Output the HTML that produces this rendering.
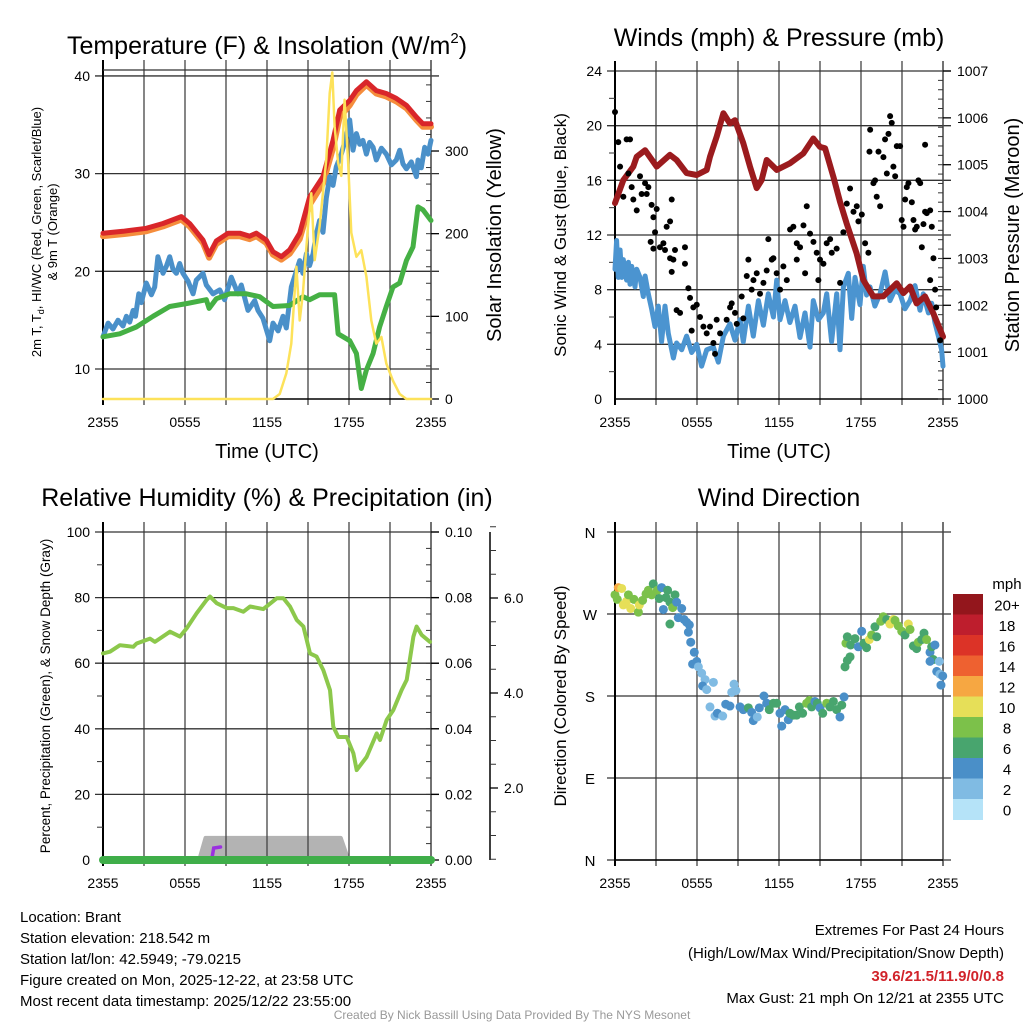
<!DOCTYPE html>
<html><head><meta charset="utf-8"><style>
html,body{margin:0;padding:0;background:#fff;}
svg{display:block;font-family:"Liberation Sans",sans-serif;}
</style></head><body>
<svg id="chart" width="1024" height="1024" viewBox="0 0 1024 1024" xmlns="http://www.w3.org/2000/svg">
<defs><clipPath id="clip3"><rect x="103" y="532" width="328" height="328"/></clipPath></defs>
<rect width="1024" height="1024" fill="#fff"/>
<g id="layer"></g>
<text x="267" y="54" font-size="25" text-anchor="middle">Temperature (F) &amp; Insolation (W/m<tspan font-size="15" dy="-11">2</tspan><tspan dy="11">)</tspan></text>
<text x="779" y="46" font-size="25" text-anchor="middle">Winds (mph) &amp; Pressure (mb)</text>
<text x="267" y="506" font-size="25" text-anchor="middle">Relative Humidity (%) &amp; Precipitation (in)</text>
<text x="779" y="506" font-size="25" text-anchor="middle">Wind Direction</text>
<text transform="translate(41,232) rotate(-90)" font-size="13" text-anchor="middle">2m T, T<tspan font-size="9" dy="3">d</tspan><tspan dy="-3">, HI/WC (Red, Green, Scarlet/Blue)</tspan></text>
<text transform="translate(57,232) rotate(-90)" font-size="13" text-anchor="middle">&amp; 9m T (Orange)</text>
<text transform="translate(501,235) rotate(-90)" font-size="20" text-anchor="middle">Solar Insolation (Yellow)</text>
<text transform="translate(566,235) rotate(-90)" font-size="17" text-anchor="middle">Sonic Wind &amp; Gust (Blue, Black)</text>
<text transform="translate(1019,235) rotate(-90)" font-size="20" text-anchor="middle">Station Pressure (Maroon)</text>
<text transform="translate(50,696) rotate(-90)" font-size="13.5" text-anchor="middle">Percent, Precipitation (Green), &amp; Snow Depth (Gray)</text>
<text transform="translate(566,696) rotate(-90)" font-size="17" text-anchor="middle">Direction (Colored By Speed)</text>
<text x="267" y="458" font-size="20" text-anchor="middle">Time (UTC)</text>
<text x="779" y="458" font-size="20" text-anchor="middle">Time (UTC)</text>
<text x="1007" y="589" font-size="15" text-anchor="middle">mph</text>
<g font-size="15">
<text x="20" y="922">Location: Brant</text>
<text x="20" y="943">Station elevation: 218.542 m</text>
<text x="20" y="964">Station lat/lon: 42.5949; -79.0215</text>
<text x="20" y="985">Figure created on Mon, 2025-12-22, at 23:58 UTC</text>
<text x="20" y="1006">Most recent data timestamp: 2025/12/22 23:55:00</text>
</g>
<g font-size="15" text-anchor="end">
<text x="1004" y="935">Extremes For Past 24 Hours</text>
<text x="1004" y="958">(High/Low/Max Wind/Precipitation/Snow Depth)</text>
<text x="1004" y="981" fill="#d1232a" font-weight="bold">39.6/21.5/11.9/0/0.8</text>
<text x="1004" y="1003">Max Gust: 21 mph On 12/21 at 2355 UTC</text>
</g>
<text x="512" y="1019" font-size="12" fill="#999" text-anchor="middle">Created By Nick Bassill Using Data Provided By The NYS Mesonet</text>
</svg>
<script>
// ---- Temperature panel data (hours since 2355) ----
const redT=[0,1.46,3.17,4.39,5.73,6.34,7.32,7.76,8.29,9.15,10.0,10.73,11.22,11.95,12.44,13.05,13.66,14.39,15.12,16.1,16.83,17.32,18.05,18.54,19.27,20.0,20.73,21.46,22.2,22.93,23.41,24];
const redV=[23.9,24.1,24.4,24.9,25.6,24.9,23.2,21.7,23.1,23.9,23.9,23.6,23.9,23.2,22.0,21.5,22.2,23.9,27.6,29.7,33.4,36.5,37.5,38.5,39.4,38.5,38.2,37.7,37.0,35.8,35.1,35.1];
const orangeV=[23.6,23.8,24.1,24.6,25.3,24.6,22.9,21.4,22.8,23.6,23.6,23.3,23.6,22.9,21.7,21.2,21.8,23.3,26.8,29.0,32.6,35.8,37.0,38.1,39.1,38.2,37.9,37.4,36.7,35.5,34.8,34.8];
const blueT=[0,0.37,0.73,1.1,1.46,1.71,1.95,2.2,2.38,2.62,2.8,3.17,3.54,3.78,4.02,4.39,4.63,4.88,5.12,5.37,5.61,5.85,6.22,6.59,6.83,7.32,7.56,8.05,8.54,8.9,9.39,9.88,10.12,10.61,11.1,11.34,11.7,12.2,12.44,12.81,13.17,13.41,13.78,14.39,14.63,14.88,15.12,15.37,15.61,15.85,16.1,16.34,16.59,16.83,17.07,17.44,17.8,18.05,18.29,18.54,18.78,19.02,19.27,19.51,19.76,20.0,20.37,20.73,21.1,21.46,21.71,21.95,22.2,22.56,22.93,23.05,23.29,23.54,23.78,24];
const blueV=[13.3,14.7,14.1,15.0,14.4,15.4,14.8,16.0,15.4,17.7,16.8,18.8,17.6,18.4,21.5,19.8,20.5,21.5,20.2,19.8,20.8,19.8,19.0,17.7,19.1,19.8,18.6,17.7,18.1,17.1,19.4,17.7,18.6,16.0,17.0,16.0,15.2,12.9,14.7,13.9,15.4,14.2,18.4,21.1,19.8,21.8,20.6,21.8,23.8,25.2,24.0,27.5,29.7,28.8,30.7,32.0,33.8,35.5,32.4,34.1,33.0,33.4,32.0,33.2,32.7,31.4,32.6,32.0,30.9,31.4,32.4,31.0,30.5,31.2,29.7,31.4,30.6,32.7,32.0,33.4];
const greenT=[0,1.22,2.44,3.66,4.88,6.1,7.56,7.76,8.29,9.27,10.49,11.46,12.44,13.66,14.63,15.12,15.85,16.95,17.2,18.05,18.54,18.9,19.27,19.76,20.24,20.73,21.22,21.71,22.2,22.68,23.05,23.41,24];
const greenV=[13.3,13.6,14.3,15.4,16.4,16.7,17.1,16.2,17.2,17.7,17.7,17.4,16.4,16.5,17.4,17.1,17.6,17.6,13.6,12.9,11.6,8.0,9.9,11.6,14.3,16.4,18.4,18.8,21.1,22.5,26.6,26.3,25.2];
const solarT=[0,12.44,12.93,13.41,13.78,14.02,14.15,14.39,14.63,15.0,15.24,15.49,15.85,16.34,16.59,16.78,16.95,17.2,17.44,17.68,17.93,18.17,18.54,18.9,19.27,19.63,20.0,20.37,20.73,21.22,21.71,22.2,24];
const solarV=[0,0,6,31,67,128,160,95,128,209,249,168,209,290,370,395,330,286,270,362,290,201,172,180,148,95,67,75,43,22,6,0,0];
// ---- Wind panel data ----
const presT=[0,0.61,1.34,1.59,2.2,3.05,4.02,4.51,5.24,5.98,6.71,6.95,7.44,7.93,8.41,8.78,9.39,9.88,10.37,10.73,11.1,11.83,12.8,13.78,14.51,15.0,15.37,15.98,16.46,16.95,17.68,18.17,18.9,19.63,20.61,21.1,21.59,22.07,22.68,23.29,24];
const presV=[1004.18,1004.67,1004.96,1005.17,1005.31,1004.96,1005.21,1005.10,1004.82,1004.78,1004.89,1005.17,1005.60,1006.10,1005.88,1005.95,1005.46,1004.96,1004.50,1004.67,1005.10,1004.89,1005.03,1005.24,1005.56,1005.38,1005.35,1004.74,1004.21,1003.75,1003.11,1002.54,1002.19,1002.19,1002.47,1002.26,1002.40,1002.04,1002.19,1001.83,1001.33];
const windT=[0,0.12,0.24,0.37,0.49,0.61,0.85,0.98,1.1,1.22,1.46,1.59,1.83,2.07,2.2,2.44,2.68,2.93,3.17,3.41,3.66,3.9,4.27,4.51,4.88,5.24,5.61,5.98,6.34,6.71,7.2,7.56,7.93,8.41,8.78,9.15,9.39,9.76,10.12,10.49,10.86,11.22,11.59,11.83,12.07,12.44,12.8,13.17,13.54,13.9,14.27,14.51,14.88,15.24,15.49,15.85,16.22,16.46,16.71,17.07,17.32,17.56,17.93,18.17,18.41,18.66,19.02,19.39,19.76,20.12,20.49,20.85,21.22,21.59,21.95,22.32,22.56,22.93,23.17,23.41,23.66,23.9,24];
const windV=[9.5,11.6,8.9,10.9,8.9,10.2,8.7,10.0,8.4,9.7,8.2,9.5,8.9,7.5,9.0,7.7,6.6,5.3,6.8,4.2,6.8,4.8,3.0,4.1,3.6,4.6,3.4,4.0,2.4,3.6,3.8,2.7,4.6,5.5,4.3,5.8,4.2,6.8,4.6,7.2,5.4,7.7,6.0,8.7,5.8,7.2,5.6,6.8,4.5,6.3,3.8,7.2,5.8,6.3,7.7,4.2,7.7,3.6,8.2,9.2,5.9,8.9,6.9,9.7,7.6,8.2,6.8,7.7,9.3,7.2,8.0,7.7,6.6,7.2,8.3,6.5,7.7,6.3,7.0,5.6,4.6,3.6,2.4];
const gustT=[0,0.24,0.37,0.61,0.85,1.1,0.98,1.22,1.34,1.59,1.83,1.95,2.2,2.32,2.44,2.68,2.81,2.93,3.05,2.61,2.81,3.29,3.54,3.66,3.78,4.03,4.03,4.15,4.27,4.39,4.15,4.51,4.76,5.12,5.12,5.37,5.49,5.61,5.73,5.98,6.22,6.47,6.71,6.95,7.2,7.32,7.44,7.69,8.17,8.42,8.54,8.78,8.91,9.27,9.39,9.64,9.76,10.0,10.13,10.37,10.61,10.86,11.1,11.22,11.47,11.59,11.83,12.08,12.32,12.57,12.81,13.05,13.3,13.3,13.54,13.79,13.91,14.03,14.27,14.52,14.76,14.88,15.0,15.25,15.49,15.74,15.86,16.22,16.47,16.71,16.96,17.2,17.45,17.69,17.81,18.06,18.3,18.54,18.62,18.67,18.91,19.03,19.15,19.28,19.4,19.64,19.76,20.01,20.13,20.25,19.89,20.37,20.5,20.62,20.86,20.98,21.11,21.23,21.35,21.47,21.72,21.84,21.96,22.08,22.2,22.33,22.45,22.57,22.69,22.69,22.81,23.06,23.18,23.3,23.06,23.42,23.5,23.79];
const gustV=[21.0,18.8,17.0,14.8,19.0,19.0,16.5,15.5,14.6,13.8,16.3,15.0,15.8,15.0,15.5,14.2,13.3,12.2,13.9,11.5,11.0,11.1,11.4,10.9,12.6,13.0,10.3,14.6,10.2,10.9,9.3,6.5,6.3,11.1,9.9,8.1,7.4,5.0,6.7,6.9,6.0,5.3,4.8,5.3,4.1,3.3,5.8,4.8,5.8,6.7,7.0,6.3,5.5,7.5,5.9,9.0,10.2,8.0,8.7,9.2,7.7,8.5,9.4,11.7,10.2,10.3,9.2,8.0,9.7,8.7,12.4,12.6,10.2,11.4,11.1,12.7,9.2,14.1,12.1,11.5,10.7,8.7,10.2,9.9,11.4,11.7,10.7,11.0,8.5,12.2,14.3,15.4,13.7,14.1,13.0,13.5,11.4,10.7,18.1,19.7,15.8,16.0,14.8,18.1,14.1,17.7,19.0,19.4,20.7,20.2,16.5,17.0,16.3,18.5,18.5,13.1,12.6,14.6,15.5,15.8,14.4,13.1,12.4,12.6,16.0,15.8,11.1,12.8,18.6,13.7,13.6,13.8,12.6,10.3,8.7,8.0,6.7,4.3];
// ---- RH panel data ----
const rhT=[0,0.51,1.24,2.22,2.46,3.44,3.8,4.9,5.63,6.12,6.85,7.58,7.83,8.32,9.05,9.54,10.27,10.76,11.73,12.71,13.2,13.68,14.17,14.66,15.15,15.63,16.12,16.61,16.85,17.22,17.83,18.32,18.56,19.29,20.03,20.27,20.76,21.24,21.85,22.22,22.71,22.95,23.32,23.93];
const rhV=[63.0,63.5,65.5,65.0,66.0,67.5,66.5,69.6,68.1,70.6,75.2,79.3,80.3,78.3,76.8,76.8,75.7,77.3,76.5,79.8,79.8,77.3,73.2,71.2,63.0,62.0,57.9,51.8,40.6,37.5,37.5,32.5,27.4,31.4,38.6,36.6,42.7,45.7,51.8,54.9,68.1,71.2,68.6,66.5];
const snowT=[7.0,7.5,17.4,18.0];
const snowV=[0.45,0.95,0.95,0.45];
const precipT=[0,24];
const precipV=[0,0];
// ---- Wind direction data ----
const dirT=[0,0.24,0.49,0.17,0.61,0.85,1.15,0.98,1.39,1.71,1.78,2.02,2.27,2.44,2.68,2.8,3.1,3.24,3.41,3.54,3.73,3.85,4.02,4.22,4.39,4.51,4.63,4.88,5.05,5.24,5.44,4.02,5.37,5.54,5.8,5.68,5.98,6.1,6.34,6.59,6.41,6.71,7.2,6.95,7.32,7.49,7.88,8.1,8.41,8.71,8.85,8.54,9.15,9.39,9.76,10.0,10.12,10.41,10.56,10.9,11.1,11.29,11.59,11.83,12.07,12.2,12.44,12.68,12.8,13.05,13.29,13.49,13.73,14.02,14.22,14.39,14.63,14.8,15.0,15.2,15.49,15.73,15.98,16.22,16.46,16.59,16.76,16.83,17.0,17.2,16.9,17.0,17.24,17.56,17.8,18.05,18.22,18.41,18.61,18.78,19.02,19.15,19.44,19.63,19.88,20.12,20.37,20.49,20.73,20.98,21.22,21.46,21.59,21.83,22.07,22.2,22.44,22.61,22.8,23.05,23.17,23.29,23.41,23.05,23.54,23.73,23.78,23.98,23.85];
const dirV=[291,299,298,286,280,284,276,291,286,272,280,285,292,296,291,303,296,287,299,275,288,296,283,277,291,283,266,276,264,261,258,259,250,239,228,215,218,212,205,198,191,187,195,168,158,161,158,171,169,193,186,184,168,165,167,162,153,157,167,180,172,165,172,172,161,147,165,154,161,159,159,168,161,172,175,168,174,172,167,161,172,168,174,165,157,170,179,212,219,223,238,245,236,243,234,251,238,233,242,247,256,245,262,267,264,259,264,263,257,251,247,259,253,235,232,239,242,249,242,228,234,220,236,218,207,218,204,202,192];
const dirSpd=[9,12,11,8,10,10,11,8,8,8,11,8,8,8,8,7,8,6,5,5,7,6,6,8,6,5,4,5,5,5,5,6,4,5,5,4,5,3,3,3,5,3,3,3,2,4,3,4,4,3,3,3,5,4,7,5,4,3,5,4,5,6,6,7,4,4,5,4,6,6,6,7,6,8,9,6,4,6,5,6,8,6,6,6,4,6,4,6,7,7,8,6,7,7,5,4,6,6,10,8,6,7,8,8,7,10,10,9,8,8,7,11,8,6,6,8,6,6,8,4,7,6,4,4,4,3,3,4,4];
const cbLabels=["20+","18","16","14","12","10","8","6","4","2","0"];
const cbColors=["#93161c","#be1e2d","#dc3327","#ee6130","#f6a742","#e6df58","#7cc14a","#48a56e","#4a8fc8","#80bbe3","#b5e3f8"];
const xTickLabels=["2355","0555","1155","1755","2355"];
const dirTickLabels=["N","E","S","W","N"];

const NS="http://www.w3.org/2000/svg";
const layer=document.getElementById('layer');
function mk(tag,attrs,parent){const e=document.createElementNS(NS,tag);for(const k in attrs)e.setAttribute(k,attrs[k]);(parent||layer).appendChild(e);return e;}
function scale(d0,d1,r0,r1){return v=>r0+(v-d0)/(d1-d0)*(r1-r0);}
function pathD(ts,vs,sx,sy){return ts.map((t,i)=>(i?'L':'M')+sx(t).toFixed(1)+','+sy(vs[i]).toFixed(1)).join('');}

function frame(P,name){
  const g=mk('g',{});
  
  
  for(let h=3;h<24;h+=3){const x=P.sx(h);const l=mk('line',{x1:x,x2:x,y1:P.y0-10,y2:P.y1+6,stroke:'#444','stroke-width':1.3},g);}
  P.hgrid.forEach(v=>{const y=P.sy(v);const l=mk('line',{x1:P.x0-8,x2:P.x1+8,y1:y,y2:y,stroke:'#333','stroke-width':1.3},g);});
  mk('line',{x1:P.x0,x2:P.x0,y1:P.y0-10,y2:P.y1+6,stroke:'#000','stroke-width':2},g);
  mk('line',{x1:P.x1,x2:P.x1,y1:P.y0-10,y2:P.y1+6,stroke:'#444','stroke-width':1.5},g);
  mk('line',{x1:P.x0,x2:P.x1,y1:P.y1,y2:P.y1,stroke:'#000','stroke-width':1.5},g);
  xTickLabels.forEach((s,i)=>{const x=P.sx(i*6);const t=mk('text',{x:x,y:P.y1+28,'font-size':14,'text-anchor':'middle'},g);t.textContent=s;});
  return g;
}
function leftLabels(P,vals,labels,g){vals.forEach((v,i)=>{const t=mk('text',{x:P.x0-13,y:P.sy(v)+5,'font-size':14,'text-anchor':'end'},g);t.textContent=labels[i];});}
function minorTicks(x,y0,y1,step,fy,dir,g,len){for(let v=y0;v<=y1+1e-9;v+=step){const y=fy(v);mk('line',{x1:x,x2:x+dir*len,y1:y,y2:y,stroke:'#333','stroke-width':1},g);}}
function rightLabels(x,vals,labels,fy,g,major){vals.forEach((v,i)=>{const y=fy(v);if(major)mk('line',{x1:x,x2:x+8,y1:y,y2:y,stroke:'#000','stroke-width':1.3},g);const t=mk('text',{x:x+14,y:y+5,'font-size':14},g);t.textContent=labels[i];});}

// ===== Panel 1 =====
(function(){
  const P={x0:103,x1:431,y0:70,y1:399};
  P.sx=scale(0,24,P.x0,P.x1);P.sy=scale(6.93,40.61,P.y1,P.y0);P.hgrid=[10,20,30,40];
  const g=frame(P,'temperature');
  mk('line',{x1:P.x0,x2:P.x1,y1:P.y0,y2:P.y0,stroke:'#333','stroke-width':1.3},g);
  leftLabels(P,[10,20,30,40],['10','20','30','40'],g);
  const si=scale(0,398,P.y1,P.y0);
  minorTicks(P.x1,0,380,20,si,-1,g,5);
  rightLabels(P.x1,[0,100,200,300],['0','100','200','300'],si,g,true);
  const s=mk('g',{'fill':'none','stroke-linejoin':'round','stroke-linecap':'round'});
  const o=mk('path',{d:pathD(redT,orangeV,P.sx,P.sy),stroke:'#f58d3c','stroke-width':6},s);
  const r=mk('path',{d:pathD(redT,redV,P.sx,P.sy),stroke:'#d9262a','stroke-width':5},s);
  const b=mk('path',{d:pathD(blueT,blueV,P.sx,P.sy),stroke:'#4a90c9','stroke-width':5},s);
  const gr=mk('path',{d:pathD(greenT,greenV,P.sx,P.sy),stroke:'#45b044','stroke-width':5},s);
  const y=mk('path',{d:pathD(solarT,solarV,P.sx,si),stroke:'#fde25a','stroke-width':2.5},s);
})();

// ===== Panel 2 =====
(function(){
  const P={x0:615,x1:943,y0:71,y1:399};
  P.sx=scale(0,24,P.x0,P.x1);P.sy=scale(0,24,P.y1,P.y0);P.hgrid=[4,8,12,16,20,24];
  const g=frame(P,'wind');
  leftLabels(P,[0,4,8,12,16,20,24],['0','4','8','12','16','20','24'],g);
  minorTicks(P.x0,2,22,4,P.sy,-1,g,6);
  const sp=scale(1000,1007,P.y1,P.y0);
  minorTicks(P.x1,1000,1007,0.2,sp,-1,g,5);
  rightLabels(P.x1,[1000,1001,1002,1003,1004,1005,1006,1007],['1000','1001','1002','1003','1004','1005','1006','1007'],sp,g,true);
  const s=mk('g',{'fill':'none','stroke-linejoin':'round','stroke-linecap':'round'});
  const w=mk('path',{d:pathD(windT,windV,P.sx,P.sy),stroke:'#4b94d0','stroke-width':5},s);
  const pr=mk('path',{d:pathD(presT,presV,P.sx,sp),stroke:'#9b1b1e','stroke-width':6},s);
  const dg=mk('g',{fill:'#000'});
  
  
  gustT.forEach((t,i)=>{const c=mk('circle',{cx:P.sx(t),cy:P.sy(gustV[i]),r:3},dg);});
})();

// ===== Panel 3 =====
(function(){
  const P={x0:103,x1:431,y0:532,y1:860};
  P.sx=scale(0,24,P.x0,P.x1);P.sy=scale(0,100,P.y1,P.y0);P.hgrid=[20,40,60,80,100];
  const snowG=mk('g',{'clip-path':'url(#clip3)'});
  
  
  const g=frame(P,'humidity');
  leftLabels(P,[0,20,40,60,80,100],['0','20','40','60','80','100'],g);
  minorTicks(P.x0,10,90,20,P.sy,-1,g,6);
  const spp=scale(0,0.1,P.y1,P.y0);
  minorTicks(P.x1,0,0.1,0.005,spp,-1,g,5);
  rightLabels(P.x1,[0,0.02,0.04,0.06,0.08,0.10],['0.00','0.02','0.04','0.06','0.08','0.10'],spp,g,true);
  const ss=scale(0,2,883,788);
  mk('line',{x1:490,x2:490,y1:532,y2:860,stroke:'#000','stroke-width':1.5},g);
  minorTicks(490,0.5,7.5,0.5,ss,1,g,6);
  [2,4,6].forEach(v=>{const y=ss(v);mk('line',{x1:490,x2:498,y1:y,y2:y,stroke:'#000','stroke-width':1.3},g);const t=mk('text',{x:504,y:y+5,'font-size':14},g);t.textContent=v.toFixed(1);});
  const sn=mk('path',{d:pathD(snowT,snowV,P.sx,ss)+'L'+P.sx(18.0)+','+(P.y1+5)+'L'+P.sx(7.0)+','+(P.y1+5)+'Z',fill:'#b3b3b3',stroke:'#b3b3b3','stroke-width':4,'stroke-linejoin':'round'},snowG);
  
  
  const pu=mk('path',{d:'M'+P.sx(8.0)+','+(P.y1-4)+'L'+P.sx(8.1)+','+(P.y1-12)+'L'+P.sx(8.6)+','+(P.y1-13),fill:'none',stroke:'#9b30e0','stroke-width':3.5,'stroke-linecap':'round'});
  
  
  const rh=mk('path',{d:pathD(rhT,rhV,P.sx,P.sy),fill:'none',stroke:'#8cc84b','stroke-width':4,'stroke-linejoin':'round','stroke-linecap':'round'});
  
  
  const pc=mk('path',{d:pathD(precipT,precipV,P.sx,spp),fill:'none',stroke:'#3fae49','stroke-width':8,'stroke-linecap':'round'});
  
  
})();

// ===== Panel 4 =====
(function(){
  const P={x0:615,x1:943,y0:532,y1:860};
  P.sx=scale(0,24,P.x0,P.x1);P.sy=scale(0,360,P.y1,P.y0);P.hgrid=[0,90,180,270,360];
  const g=frame(P,'direction');
  dirTickLabels.forEach((s,i)=>{const t=mk('text',{x:590,y:P.sy(i*90)+6,'font-size':15,'text-anchor':'middle'},g);t.textContent=s;});
  const dg=mk('g',{});
  
  
  dirT.forEach((t,i)=>{let bin=Math.min(10,Math.floor(dirSpd[i]/2));const c=mk('circle',{cx:P.sx(t),cy:P.sy(dirV[i]),r:4.5,fill:cbColors[10-bin]},dg);});
  const cb=mk('g',{});
  
  
  const h=20.5;
  cbColors.forEach((c,i)=>{const r=mk('rect',{x:953,y:594+i*h,width:30,height:h+0.5,fill:c},cb);const t=mk('text',{x:1007,y:594+i*h+h/2+6,'font-size':15,'text-anchor':'middle'},cb);t.textContent=cbLabels[i];});
})();
</script>
</body></html>
